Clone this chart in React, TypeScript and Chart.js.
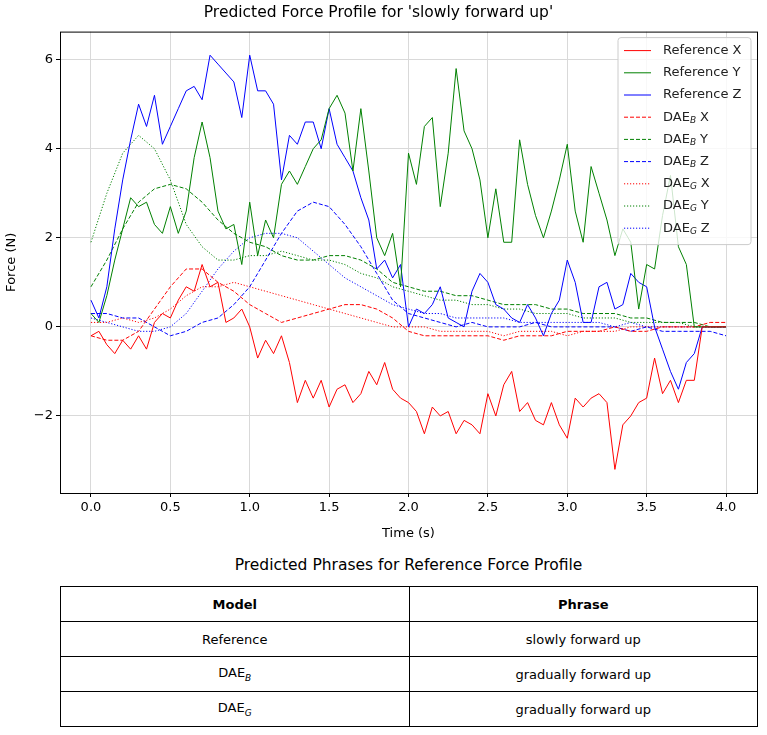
import React, { useEffect, useRef } from 'react';
import Chart from 'chart.js/auto';

// reference series sampled every 0.05 s
const refX = [-0.2, -0.1, -0.4, -0.6, -0.3, -0.5, -0.2, -0.5, 0.1, 0.3, 0.2, 0.6, 0.9, 0.8, 1.4, 0.9, 1.0, 0.1, 0.2, 0.4,
  0.0, -0.7, -0.3, -0.6, -0.2, -0.8, -1.7, -1.2, -1.6, -1.2, -1.8, -1.4, -1.3, -1.7, -1.5, -1.0, -1.3, -0.8, -1.4, -1.6,
  -1.7, -1.9, -2.4, -1.8, -2.0, -1.9, -2.4, -2.1, -2.2, -2.4, -1.5, -2.0, -1.3, -1.0, -1.9, -1.7, -2.1, -2.2, -1.7, -2.2,
  -2.5, -1.6, -1.8, -1.6, -1.5, -1.7, -3.2, -2.2, -2.0, -1.7, -1.6, -0.7, -1.5, -1.2, -1.7, -1.2, -1.2, 0.0, 0.0, 0.0, 0.0];
const refY = [0.3, 0.1, 0.7, 1.5, 2.2, 2.9, 2.7, 2.8, 2.3, 2.1, 2.7, 2.1, 2.6, 3.8, 4.6, 3.8, 2.6, 2.2, 2.3, 1.4,
  2.8, 1.6, 2.4, 2.0, 3.2, 3.5, 3.2, 3.6, 4.0, 4.2, 4.9, 5.2, 4.8, 3.5, 4.9, 3.5, 2.0, 1.6, 2.1, 0.9,
  3.9, 3.2, 4.5, 4.7, 2.7, 3.9, 5.8, 4.4, 4.0, 3.3, 2.0, 3.1, 1.9, 1.9, 4.2, 3.2, 2.5, 2.0, 2.6, 3.3,
  4.1, 2.6, 1.9, 3.6, 3.0, 2.4, 1.6, 2.2, 1.9, 0.4, 1.4, 1.3, 2.5, 3.4, 1.8, 1.4, 0.0, 0.0, 0.0, 0.0, 0.0];
const refZ = [0.6, 0.2, 0.9, 2.2, 3.3, 4.2, 5.0, 4.5, 5.2, 4.1, 4.5, 4.9, 5.3, 5.4, 5.1, 6.1, 5.9, 5.7, 5.5, 4.7,
  6.1, 5.3, 5.3, 5.0, 3.3, 4.3, 4.1, 4.6, 4.6, 4.0, 4.9, 4.1, 3.8, 3.5, 2.9, 2.4, 1.3, 1.5, 1.1, 1.4,
  0.0, 0.4, 0.3, 0.5, 0.9, 0.2, 0.1, 0.0, 0.8, 1.2, 1.0, 0.5, 0.4, 0.2, 0.1, 0.5, 0.2, -0.2, 0.3, 0.6,
  1.5, 1.0, 0.1, 0.1, 0.9, 1.0, 0.4, 0.5, 1.2, 1.0, 0.9, 0.0, -0.5, -1.0, -1.4, -0.8, -0.6, 0.0, 0.0, 0.0, 0.0];

// model outputs sampled every 0.1 s
const daeBX = [-0.2, -0.3, -0.3, -0.1, 0.4, 0.9, 1.3, 1.3, 1.0, 0.8, 0.5, 0.3, 0.1, 0.2, 0.3, 0.4, 0.5, 0.5, 0.4, 0.2,
  -0.1, -0.2, -0.2, -0.2, -0.2, -0.2, -0.3, -0.2, -0.2, -0.2, -0.1, -0.1, -0.1, 0.0, -0.1, -0.1, 0.0, 0.0, 0.0, 0.1, 0.1];
const daeBY = [0.9, 1.5, 2.2, 2.8, 3.1, 3.2, 3.1, 2.8, 2.4, 2.1, 1.9, 1.8, 1.6, 1.5, 1.5, 1.6, 1.6, 1.5, 1.3, 1.0,
  0.9, 0.8, 0.8, 0.7, 0.7, 0.6, 0.5, 0.5, 0.5, 0.4, 0.4, 0.3, 0.3, 0.3, 0.2, 0.2, 0.1, 0.1, 0.1, 0.0, 0.0];
const daeBZ = [0.3, 0.3, 0.2, 0.2, 0.0, -0.2, -0.1, 0.1, 0.2, 0.5, 0.9, 1.5, 2.1, 2.6, 2.8, 2.7, 2.3, 1.8, 1.2, 0.6,
  0.3, 0.2, 0.1, 0.0, 0.1, 0.0, 0.0, 0.0, 0.1, 0.0, 0.0, 0.0, 0.0, 0.0, -0.1, 0.0, -0.1, -0.1, -0.1, -0.1, -0.2];
const daeGX = [0.1, 0.1, 0.2, 0.1, 0.2, 0.4, 0.7, 0.9, 0.9, 1.0, 0.9, 0.8, 0.7, 0.6, 0.5, 0.4, 0.3, 0.2, 0.1, 0.0,
  0.0, 0.0, -0.1, -0.1, -0.1, -0.1, -0.2, -0.1, -0.1, -0.1, -0.2, -0.1, -0.1, -0.1, 0.0, 0.0, 0.0, 0.0, 0.0, 0.0, 0.0];
const daeGY = [1.9, 3.0, 3.9, 4.3, 4.0, 3.3, 2.3, 1.8, 1.5, 1.5, 1.6, 1.6, 1.7, 1.6, 1.5, 1.5, 1.4, 1.2, 1.1, 0.9,
  0.8, 0.7, 0.6, 0.6, 0.5, 0.5, 0.4, 0.4, 0.3, 0.3, 0.3, 0.2, 0.2, 0.2, 0.1, 0.1, 0.1, 0.1, 0.0, 0.0, 0.0];
const daeGZ = [0.2, 0.1, 0.0, -0.1, -0.1, 0.0, 0.3, 0.8, 1.3, 1.7, 2.0, 2.1, 2.1, 2.0, 1.7, 1.4, 1.1, 0.9, 0.7, 0.5,
  0.4, 0.3, 0.3, 0.2, 0.2, 0.2, 0.2, 0.1, 0.1, 0.1, 0.1, 0.1, 0.1, 0.0, 0.1, 0.0, 0.0, 0.0, 0.0, 0.0, 0.0];

const xTicks = [0, 0.5, 1, 1.5, 2, 2.5, 3, 3.5, 4];
const yTicks = [-2, 0, 2, 4, 6];

const tableRows = [
  { model: 'Reference', sub: '', phrase: 'slowly forward up' },
  { model: 'DAE', sub: 'B', phrase: 'gradually forward up' },
  { model: 'DAE', sub: 'G', phrase: 'gradually forward up' },
];

const FONT = '"DejaVu Sans", sans-serif';
const DASHED = [4, 2];
const DOTTED = [1.2, 1.8];

const toPoints = (vals: number[], step: number) => vals.map((v, i) => ({ x: +(i * step).toFixed(2), y: v }));

const legendItems = [
  { label: 'Reference X', color: 'red', dash: [] as number[] },
  { label: 'Reference Y', color: 'green', dash: [] as number[] },
  { label: 'Reference Z', color: 'blue', dash: [] as number[] },
  { label: 'X', sub: 'B', color: 'red', dash: DASHED },
  { label: 'Y', sub: 'B', color: 'green', dash: DASHED },
  { label: 'Z', sub: 'B', color: 'blue', dash: DASHED },
  { label: 'X', sub: 'G', color: 'red', dash: DOTTED },
  { label: 'Y', sub: 'G', color: 'green', dash: DOTTED },
  { label: 'Z', sub: 'G', color: 'blue', dash: DOTTED },
];

const framePlugin = {
  id: 'frame',
  afterDraw(chart: any) {
    const { ctx, chartArea: a } = chart;
    ctx.save();
    ctx.strokeStyle = '#000';
    ctx.lineWidth = 1;
    ctx.strokeRect(a.left + 0.5, a.top + 0.5, a.right - a.left, a.bottom - a.top);

    // legend box inside the plot, top right
    const w = 133, h = 207;
    const bx = a.right - w - 6, by = a.top + 6;
    ctx.fillStyle = 'rgba(255,255,255,0.8)';
    ctx.strokeStyle = '#ccc';
    ctx.beginPath();
    ctx.roundRect(bx, by, w, h, 3);
    ctx.fill();
    ctx.stroke();
    ctx.textBaseline = 'middle';
    legendItems.forEach((it, i) => {
      const y = by + 13 + i * 22.2;
      ctx.strokeStyle = it.color;
      ctx.setLineDash(it.dash);
      ctx.beginPath();
      ctx.moveTo(bx + 6, y);
      ctx.lineTo(bx + 33, y);
      ctx.stroke();
      ctx.setLineDash([]);
      ctx.fillStyle = '#222';
      let tx = bx + 45;
      ctx.font = `13px ${FONT}`;
      if (it.sub) {
        ctx.fillText('DAE', tx, y);
        tx += ctx.measureText('DAE').width;
        ctx.font = `italic 9px ${FONT}`;
        ctx.fillText(it.sub, tx, y + 3);
        tx += ctx.measureText(it.sub).width + 4;
        ctx.font = `13px ${FONT}`;
        ctx.fillText(it.label, tx, y);
      } else {
        ctx.fillText(it.label, tx, y);
      }
    });
    ctx.restore();
  },
};

const ForceChart: React.FC = () => {
  const chartRef = useRef<HTMLCanvasElement>(null);
  const chartInstance = useRef<Chart | null>(null);

  useEffect(() => {
    if (!chartRef.current) return;
    if (chartInstance.current) chartInstance.current.destroy();
    const ctx = chartRef.current.getContext('2d');
    if (!ctx) return;

    const ds = (data: number[], step: number, color: string, dash: number[]) => ({
      data: toPoints(data, step),
      borderColor: color,
      backgroundColor: color,
      borderWidth: 1,
      borderDash: dash,
      pointRadius: 0,
      tension: 0,
      fill: false,
    });

    chartInstance.current = new Chart(ctx, {
      type: 'line',
      data: {
        datasets: [
          ds(refX, 0.05, 'red', []),
          ds(refY, 0.05, 'green', []),
          ds(refZ, 0.05, 'blue', []),
          ds(daeBX, 0.1, 'red', DASHED),
          ds(daeBY, 0.1, 'green', DASHED),
          ds(daeBZ, 0.1, 'blue', DASHED),
          ds(daeGX, 0.1, 'red', DOTTED),
          ds(daeGY, 0.1, 'green', DOTTED),
          ds(daeGZ, 0.1, 'blue', DOTTED),
        ] as any,
      },
      plugins: [framePlugin],
      options: {
        animation: false,
        responsive: false,
        maintainAspectRatio: false,
        layout: { padding: { left: 0, right: 10, top: 0, bottom: 0 } },
        plugins: {
          legend: { display: false },
          tooltip: { enabled: false },
          title: {
            display: true,
            text: "Predicted Force Profile for 'slowly forward up'",
            color: '#000',
            font: { family: FONT, size: 15.5, weight: 'normal' },
            padding: { top: 4, bottom: 9 },
          },
        },
        scales: {
          x: {
            type: 'linear',
            min: -0.195,
            max: 4.195,
            afterBuildTicks: (s: any) => { s.ticks = xTicks.map(v => ({ value: v })); },
            afterFit: (s: any) => { s.height = 52; },
            grid: { color: '#d9d9d9', tickColor: '#000', tickLength: 4 },
            border: { display: false },
            ticks: { color: '#000', font: { family: FONT, size: 13 }, callback: (v: any) => Number(v).toFixed(1), maxRotation: 0, padding: 3 },
            title: { display: true, text: 'Time (s)', color: '#000', font: { family: FONT, size: 13 }, padding: { top: 2 } },
          },
          y: {
            min: -3.73,
            max: 6.63,
            afterBuildTicks: (s: any) => { s.ticks = yTicks.map(v => ({ value: v })); },
            afterFit: (s: any) => { s.width = 60; },
            grid: { color: '#d9d9d9', tickColor: '#000', tickLength: 4 },
            border: { display: false },
            ticks: { color: '#000', font: { family: FONT, size: 13 }, callback: (v: any) => (v < 0 ? '\u2212' + Math.abs(v) : String(v)), padding: 3 },
            title: { display: true, text: 'Force (N)', color: '#000', font: { family: FONT, size: 13 }, padding: { bottom: 4 } },
          },
        },
      },
    });

    return () => {
      if (chartInstance.current) {
        chartInstance.current.destroy();
        chartInstance.current = null;
      }
    };
  }, []);

  return <canvas ref={chartRef} width={767} height={545} style={{ display: 'block', width: 767, height: 545 }} />;
};

const cell: React.CSSProperties = {
  border: '1px solid #000',
  height: 34,
  padding: 0,
  textAlign: 'center',
  fontSize: 13,
  width: '50%',
};

const App: React.FC = () => (
  <div style={{ position: 'absolute', left: 0, top: 0, width: 767, height: 735, background: '#fff', fontFamily: FONT }}>
    <ForceChart />
    <div style={{ position: 'absolute', left: 60, top: 556, width: 697, textAlign: 'center', fontSize: 15.5 }}>
      Predicted Phrases for Reference Force Profile
    </div>
    <table style={{ position: 'absolute', left: 60, top: 586, width: 698, borderCollapse: 'collapse', tableLayout: 'fixed' }}>
      <tbody>
        <tr>
          <td style={{ ...cell, fontWeight: 'bold' }}>Model</td>
          <td style={{ ...cell, fontWeight: 'bold' }}>Phrase</td>
        </tr>
        {tableRows.map((r, i) => (
          <tr key={i}>
            <td style={cell}>
              {r.model}
              {r.sub && <sub style={{ fontStyle: 'italic', fontSize: 9 }}>{r.sub}</sub>}
            </td>
            <td style={cell}>{r.phrase}</td>
          </tr>
        ))}
      </tbody>
    </table>
  </div>
);

export default App;
